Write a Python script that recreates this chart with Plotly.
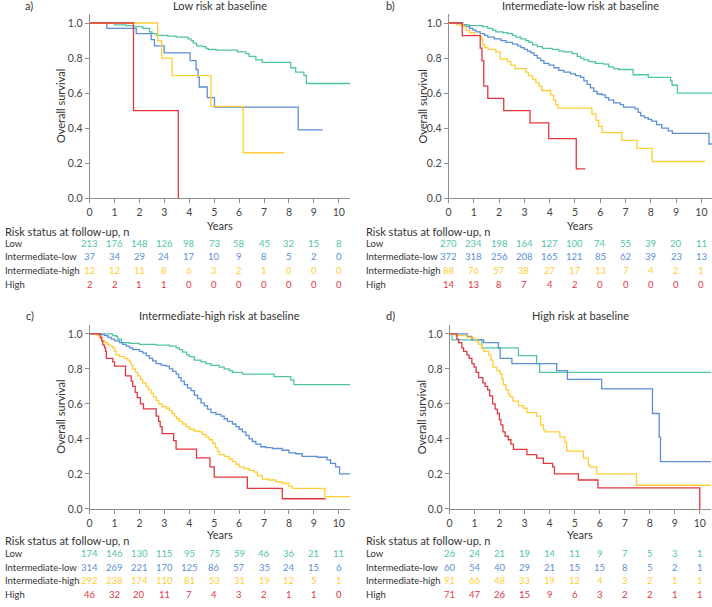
import plotly.graph_objects as go

W, H = 712, 607

years = list(range(11))
groups = ["Low", "Intermediate-low", "Intermediate-high", "High"]
colours = ["#4fc6a0", "#5b8fd6", "#ffcd35", "#e2373f"]
titles = [
    "Low risk at baseline",
    "Intermediate-low risk at baseline",
    "Intermediate-high risk at baseline",
    "High risk at baseline",
]
letters = ["a)", "b)", "c)", "d)"]

# Kaplan-Meier steps (years, overall survival)
a_low = [(0, 1.0), (1.0, 0.99), (1.47, 0.985), (1.76, 0.98), (2.13, 0.97), (2.4, 0.95),
         (2.5, 0.94), (2.69, 0.93), (3.13, 0.925), (3.47, 0.92), (3.95, 0.91), (4.07, 0.90),
         (4.16, 0.885), (4.29, 0.87), (4.53, 0.865), (4.67, 0.855), (4.76, 0.85), (5.07, 0.845),
         (5.93, 0.835), (6.27, 0.825), (6.4, 0.81), (6.67, 0.79), (6.93, 0.775), (8.07, 0.745),
         (8.27, 0.72), (8.6, 0.70), (8.7, 0.655), (10.6, 0.655)]
a_il = [(0, 1.0), (0.69, 0.97), (1.87, 0.94), (2.47, 0.905), (2.6, 0.87), (2.99, 0.83),
        (4.03, 0.785), (4.27, 0.735), (4.35, 0.69), (4.4, 0.635), (4.72, 0.575), (5.01, 0.52),
        (8.37, 0.39), (9.36, 0.39)]
a_ih = [(0, 1.0), (2.73, 0.9), (2.89, 0.8), (3.31, 0.7), (4.87, 0.525), (6.16, 0.26), (7.81, 0.26)]
a_hi = [(0, 1.0), (1.76, 0.5), (3.56, 0.0)]

b_low = [(0, 1.0), (0.56, 0.99), (0.83, 0.985), (1.35, 0.98), (1.55, 0.97), (1.74, 0.96),
         (1.87, 0.95), (2.14, 0.945), (2.33, 0.94), (2.53, 0.93), (2.66, 0.92), (2.86, 0.91),
         (3.05, 0.90), (3.18, 0.89), (3.32, 0.875), (3.51, 0.865), (3.71, 0.855), (4.1, 0.85),
         (4.36, 0.84), (4.56, 0.835), (4.89, 0.825), (5.09, 0.81), (5.22, 0.80), (5.35, 0.79),
         (5.54, 0.78), (5.81, 0.77), (6.13, 0.765), (6.33, 0.75), (6.53, 0.74), (6.72, 0.735),
         (7.3, 0.705), (7.9, 0.69), (8.78, 0.67), (8.84, 0.645), (9.05, 0.60), (10.6, 0.60)]
b_il = [(0, 1.0), (0.5, 0.99), (0.69, 0.98), (0.83, 0.97), (0.96, 0.96), (1.09, 0.95),
        (1.25, 0.94), (1.42, 0.93), (1.55, 0.92), (1.81, 0.91), (2.07, 0.90), (2.27, 0.89),
        (2.53, 0.88), (2.73, 0.87), (2.86, 0.86), (2.99, 0.85), (3.12, 0.84), (3.25, 0.83),
        (3.38, 0.815), (3.51, 0.80), (3.64, 0.785), (3.77, 0.77), (3.97, 0.76), (4.17, 0.745),
        (4.36, 0.73), (4.56, 0.72), (4.82, 0.71), (5.02, 0.70), (5.22, 0.69), (5.35, 0.67),
        (5.48, 0.65), (5.61, 0.63), (5.74, 0.61), (5.87, 0.595), (6.07, 0.59), (6.2, 0.575),
        (6.33, 0.56), (6.53, 0.545), (6.79, 0.535), (6.92, 0.52), (7.38, 0.51), (7.5, 0.49),
        (7.6, 0.47), (7.75, 0.46), (7.9, 0.45), (8.03, 0.44), (8.23, 0.42), (8.43, 0.40),
        (8.69, 0.385), (8.85, 0.37), (10.3, 0.31), (10.6, 0.31)]
b_ih = [(0, 1.0), (0.3, 0.99), (0.59, 0.98), (0.69, 0.96), (0.83, 0.945), (1.02, 0.93),
        (1.28, 0.91), (1.35, 0.875), (1.43, 0.86), (1.56, 0.85), (1.87, 0.835), (2.04, 0.795),
        (2.33, 0.78), (2.46, 0.76), (2.63, 0.74), (3.05, 0.72), (3.16, 0.70), (3.32, 0.68),
        (3.45, 0.66), (3.58, 0.64), (3.68, 0.615), (4.04, 0.59), (4.15, 0.56), (4.24, 0.535),
        (4.33, 0.515), (5.67, 0.48), (5.83, 0.445), (5.94, 0.41), (6.07, 0.375), (6.85, 0.33),
        (7.45, 0.285), (8.05, 0.21), (10.15, 0.21)]
b_hi = [(0, 1.0), (0.54, 0.928), (1.25, 0.857), (1.32, 0.785), (1.39, 0.64), (1.55, 0.57),
        (2.18, 0.50), (3.22, 0.43), (3.96, 0.34), (5.05, 0.168), (5.41, 0.168)]

c_low = [(0, 1.0), (0.93, 0.99), (1.07, 0.985), (1.13, 0.97), (1.27, 0.95), (1.6, 0.945),
         (2.0, 0.94), (2.67, 0.935), (3.2, 0.93), (3.47, 0.92), (3.6, 0.91), (3.73, 0.895),
         (3.89, 0.88), (4.0, 0.87), (4.2, 0.85), (4.47, 0.84), (4.67, 0.83), (4.87, 0.82),
         (5.2, 0.81), (5.4, 0.80), (5.6, 0.79), (5.73, 0.78), (6.13, 0.77), (7.4, 0.755),
         (8.07, 0.735), (8.2, 0.71), (10.6, 0.71)]
c_il = [(0, 1.0), (0.4, 0.995), (0.6, 0.99), (0.73, 0.98), (0.87, 0.97), (1.0, 0.96),
        (1.2, 0.95), (1.33, 0.94), (1.47, 0.93), (1.6, 0.92), (1.73, 0.91), (2.0, 0.90),
        (2.13, 0.89), (2.27, 0.875), (2.4, 0.86), (2.53, 0.845), (2.67, 0.83), (2.87, 0.82),
        (3.07, 0.815), (3.2, 0.80), (3.33, 0.785), (3.47, 0.77), (3.57, 0.75), (3.67, 0.73),
        (3.8, 0.71), (3.93, 0.69), (4.07, 0.675), (4.2, 0.65), (4.33, 0.63), (4.47, 0.605),
        (4.6, 0.59), (4.73, 0.57), (4.87, 0.55), (5.07, 0.54), (5.27, 0.53), (5.4, 0.515),
        (5.53, 0.50), (5.73, 0.485), (5.87, 0.47), (6.0, 0.455), (6.13, 0.44), (6.27, 0.42),
        (6.4, 0.40), (6.53, 0.385), (6.67, 0.37), (6.87, 0.355), (7.07, 0.35), (7.33, 0.345),
        (7.73, 0.335), (8.0, 0.32), (8.27, 0.315), (8.53, 0.30), (9.13, 0.295), (9.53, 0.28),
        (9.67, 0.26), (9.87, 0.24), (10.03, 0.20), (10.6, 0.20)]
c_ih = [(0, 1.0), (0.3, 0.99), (0.4, 0.975), (0.47, 0.96), (0.6, 0.95), (0.73, 0.94),
        (0.8, 0.93), (0.93, 0.92), (1.0, 0.90), (1.07, 0.88), (1.2, 0.87), (1.4, 0.86),
        (1.53, 0.85), (1.6, 0.84), (1.67, 0.82), (1.73, 0.80), (1.84, 0.78), (1.93, 0.76),
        (2.04, 0.74), (2.13, 0.72), (2.27, 0.70), (2.36, 0.68), (2.47, 0.66), (2.56, 0.64),
        (2.67, 0.62), (2.77, 0.60), (2.91, 0.585), (3.07, 0.575), (3.2, 0.56), (3.31, 0.545),
        (3.4, 0.53), (3.49, 0.515), (3.6, 0.50), (3.73, 0.485), (3.87, 0.47), (4.0, 0.455),
        (4.2, 0.445), (4.4, 0.44), (4.53, 0.425), (4.67, 0.41), (4.8, 0.395), (4.93, 0.375),
        (5.04, 0.35), (5.13, 0.33), (5.2, 0.31), (5.4, 0.30), (5.6, 0.285), (5.73, 0.27),
        (5.87, 0.255), (6.0, 0.24), (6.2, 0.23), (6.4, 0.22), (6.6, 0.21), (6.73, 0.19),
        (6.93, 0.17), (7.2, 0.165), (7.47, 0.155), (7.73, 0.145), (8.0, 0.13), (8.13, 0.117),
        (9.44, 0.07), (10.6, 0.07)]
c_hi = [(0, 1.0), (0.44, 0.98), (0.49, 0.96), (0.53, 0.935), (0.6, 0.92), (0.64, 0.90),
        (0.67, 0.86), (0.93, 0.84), (1.0, 0.815), (1.44, 0.76), (1.67, 0.73), (1.73, 0.70),
        (1.83, 0.665), (1.91, 0.635), (2.04, 0.60), (2.16, 0.571), (2.67, 0.53), (2.77, 0.50),
        (2.83, 0.47), (2.91, 0.43), (3.37, 0.39), (3.47, 0.342), (4.29, 0.291), (4.83, 0.24),
        (5.0, 0.182), (6.33, 0.117), (7.73, 0.058), (9.47, 0.058)]

d_low = [(0, 1.0), (0.1, 0.965), (1.29, 0.92), (2.75, 0.875), (3.48, 0.83), (3.6, 0.78), (10.6, 0.78)]
d_il = [(0, 1.0), (0.7, 0.985), (0.89, 0.965), (1.36, 0.95), (1.95, 0.92), (2.02, 0.86),
        (2.49, 0.83), (4.28, 0.79), (4.71, 0.74), (6.08, 0.685), (8.11, 0.545), (8.38, 0.41),
        (8.43, 0.27), (10.6, 0.27)]
d_ih = [(0, 1.0), (0.25, 0.99), (0.69, 0.98), (0.96, 0.97), (1.09, 0.955), (1.16, 0.94),
        (1.29, 0.92), (1.36, 0.90), (1.56, 0.88), (1.65, 0.85), (1.73, 0.81), (1.89, 0.79),
        (2.02, 0.77), (2.09, 0.74), (2.15, 0.71), (2.25, 0.68), (2.35, 0.655), (2.42, 0.64),
        (2.53, 0.615), (2.75, 0.59), (2.95, 0.575), (3.09, 0.55), (3.48, 0.53), (3.64, 0.48),
        (3.75, 0.45), (3.82, 0.44), (4.41, 0.41), (4.61, 0.38), (4.68, 0.33), (5.35, 0.29),
        (5.55, 0.25), (5.6, 0.24), (5.88, 0.20), (7.47, 0.135), (10.6, 0.135)]
d_hi = [(0, 1.0), (0.29, 0.97), (0.36, 0.95), (0.49, 0.92), (0.56, 0.90), (0.69, 0.88),
        (0.78, 0.86), (0.89, 0.83), (0.98, 0.81), (1.06, 0.78), (1.16, 0.75), (1.33, 0.72),
        (1.42, 0.70), (1.52, 0.68), (1.6, 0.645), (1.72, 0.60), (1.82, 0.57), (1.91, 0.545),
        (1.99, 0.51), (2.05, 0.48), (2.13, 0.44), (2.22, 0.415), (2.35, 0.395), (2.45, 0.37),
        (2.55, 0.34), (3.09, 0.31), (3.48, 0.29), (3.75, 0.26), (4.12, 0.24), (4.19, 0.20),
        (5.15, 0.165), (5.93, 0.12), (10.0, 0.0)]

# numbers at risk, by year 0..10
a_risk = [[213, 176, 148, 126, 98, 73, 58, 45, 32, 15, 8],
          [37, 34, 29, 24, 17, 10, 9, 8, 5, 2, 0],
          [12, 12, 11, 8, 6, 3, 2, 1, 0, 0, 0],
          [2, 2, 1, 1, 0, 0, 0, 0, 0, 0, 0]]
b_risk = [[270, 234, 198, 164, 127, 100, 74, 55, 39, 20, 11],
          [372, 318, 256, 208, 165, 121, 85, 62, 39, 23, 13],
          [88, 76, 57, 38, 27, 17, 13, 7, 4, 2, 1],
          [14, 13, 8, 7, 4, 2, 0, 0, 0, 0, 0]]
c_risk = [[174, 146, 130, 115, 95, 75, 59, 46, 36, 21, 11],
          [314, 269, 221, 170, 125, 86, 57, 35, 24, 15, 6],
          [292, 238, 174, 110, 81, 53, 31, 19, 12, 5, 1],
          [46, 32, 20, 11, 7, 4, 3, 2, 1, 1, 0]]
d_risk = [[26, 24, 21, 19, 14, 11, 9, 7, 5, 3, 1],
          [60, 54, 40, 29, 21, 15, 15, 8, 5, 2, 1],
          [91, 66, 48, 33, 19, 12, 4, 3, 2, 1, 1],
          [71, 47, 26, 15, 9, 6, 3, 2, 2, 1, 1]]

curves = [[a_low, a_il, a_ih, a_hi], [b_low, b_il, b_ih, b_hi],
          [c_low, c_il, c_ih, c_hi], [d_low, d_il, d_ih, d_hi]]
risks = [a_risk, b_risk, c_risk, d_risk]

FONT = "Lato, 'Source Sans Pro', sans-serif"
TXT = "#333333"
AX = "#8f8f8f"


def px(x):
    return x / W


def py(y):
    return 1 - y / H


# pixel geometry of each panel: plot box, x max, text rows
panels = [
    dict(x0=87, x1=348.5, xmax=10.45, top=14.4, bot=200.3, left=0, lab=20.5, ytl=58,
         head=6, yrs=228, risk=233.5, rows=[245.7, 259.3, 273.3, 287.3]),
    dict(x0=447.5, x1=712, xmax=10.42, top=14.4, bot=200.3, left=362.5, lab=382.5, ytl=421,
         head=6, yrs=228, risk=233.5, rows=[245.7, 259.3, 273.3, 287.3]),
    dict(x0=87, x1=348.5, xmax=10.45, top=328.3, bot=514, left=0, lab=21, ytl=58,
         head=319, yrs=539.5, risk=545.7, rows=[559, 572.7, 586.7, 600.7]),
    dict(x0=448.5, x1=711, xmax=10.45, top=328.3, bot=514, left=362.5, lab=382.5, ytl=421,
         head=319, yrs=539.5, risk=545.7, rows=[559, 572.7, 586.7, 600.7]),
]

fig = go.Figure()
annotations = []
layout_axes = {}

for i, p in enumerate(panels):
    n = "" if i == 0 else str(i + 1)
    for g, pts in enumerate(curves[i]):
        fig.add_trace(go.Scatter(
            x=[t for t, s in pts], y=[s for t, s in pts],
            mode="lines", line=dict(color=colours[g], width=1.3, shape="hv"),
            xaxis="x" + n, yaxis="y" + n, hoverinfo="skip", showlegend=False,
        ))
    layout_axes["xaxis" + n] = dict(
        domain=[px(p["x0"]), px(p["x1"])], anchor="y" + n, range=[0, p["xmax"]],
        tickmode="array", tickvals=years, showline=True, linecolor=AX, linewidth=1,
        ticks="outside", ticklen=4, tickcolor=AX, showgrid=False, zeroline=False,
        tickfont=dict(size=10.5, color="#444444"),
    )
    layout_axes["yaxis" + n] = dict(
        domain=[py(p["bot"]), py(p["top"])], anchor="x" + n, range=[0, 1.05],
        tickmode="array", tickvals=[0, 0.2, 0.4, 0.6, 0.8, 1.0],
        ticktext=["0.0", "0.2", "0.4", "0.6", "0.8", "1.0"],
        showline=True, linecolor=AX, linewidth=1, ticks="outside", ticklen=4,
        tickcolor=AX, showgrid=False, zeroline=False,
        tickfont=dict(size=10.5, color="#444444"),
    )
    mid = (p["x0"] + p["x1"]) / 2
    base = dict(showarrow=False, xref="paper", yref="paper", yanchor="middle",
                font=dict(size=11, color=TXT))
    small = dict(base, font=dict(size=9.5, color=TXT))
    annotations.append(dict(base, x=px(p["lab"]), y=py(p["head"]), text=letters[i], xanchor="left"))
    annotations.append(dict(base, x=px(mid), y=py(p["head"]), text=titles[i], xanchor="center"))
    annotations.append(dict(base, x=px(p["ytl"]), y=py((p["top"] + p["bot"]) / 2),
                            text="Overall survival", textangle=-90, xanchor="center"))
    annotations.append(dict(base, x=px(mid), y=py(p["yrs"]), text="Years", xanchor="center"))
    annotations.append(dict(base, x=px(p["left"]), y=py(p["risk"]),
                            text="Risk status at follow-up, n", xanchor="left"))
    for g, row_y in enumerate(p["rows"]):
        annotations.append(dict(small, x=px(p["left"]), y=py(row_y), text=groups[g], xanchor="left"))
        for yr, v in zip(years, risks[i][g]):
            annotations.append(dict(
                showarrow=False, xref="x" + n, yref="paper", x=yr, y=py(row_y),
                text=str(v), xanchor="center", yanchor="middle",
                font=dict(size=9.5, color=colours[g]),
            ))

fig.update_layout(
    width=W, height=H, margin=dict(l=0, r=0, t=0, b=0),
    paper_bgcolor="white", plot_bgcolor="white",
    font=dict(family=FONT, size=10.5, color=TXT),
    showlegend=False, annotations=annotations, **layout_axes,
)
# the page body has a default 8px margin; drop it so the figure fills the window
fig.write_html("out.html", config={"displayModeBar": False},
               post_script="document.body.style.margin='0';")
